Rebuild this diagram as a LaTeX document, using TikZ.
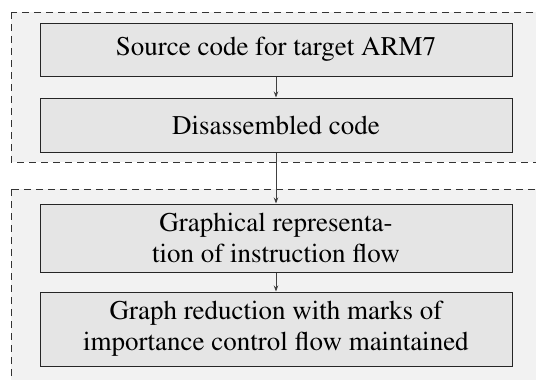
\documentclass[tikz,border=0pt]{standalone}
\usepackage[T1]{fontenc}
\usepackage{times}
\usetikzlibrary{arrows.meta}
\begin{document}
\begin{tikzpicture}[x=1pt,y=-1pt,
  group/.style={draw=black!80, fill=black!5, dash pattern=on 7pt off 5pt, line width=0.9pt},
  stepbox/.style={draw=black!85, fill=black!10, line width=1pt, minimum width=472pt, inner sep=0pt, align=center, font=\fontsize{27}{31}\selectfont},
  flow/.style={draw=black!75, line width=1pt, -{Stealth[length=6pt,width=4.5pt]}}]
\useasboundingbox (0,0) rectangle (536,380);
\clip (0,0) rectangle (536,380);
\path[group] (11,12) rectangle (560,162);
\path[group] (11,189) rectangle (560,400);
\node[stepbox, minimum height=53pt] (a) at (276,49.5) {Source code for target ARM7};
\node[stepbox, minimum height=54pt] (b) at (276,125) {Disassembled code};
\node[stepbox, minimum height=68pt] (c) at (276,238) {Graphical representa-\\tion of instruction flow};
\node[stepbox, minimum height=74pt] (d) at (276,329) {Graph reduction with marks of\\importance control flow maintained};
\draw[flow] (a) -- (b);
\draw[flow] (b) -- (c);
\draw[flow] (c) -- (d);
\end{tikzpicture}
\end{document}
